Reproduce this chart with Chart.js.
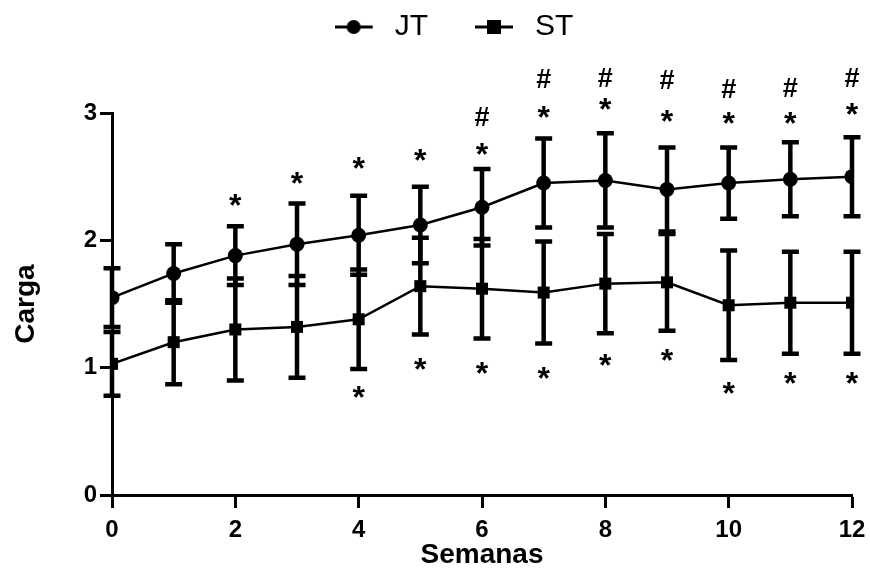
<!DOCTYPE html>
<html>
<head>
  <title>Carga por semana</title>
  <style>
    html, body { margin: 0; padding: 0; background: #fff; }
    #wrap { width: 870px; height: 572px; }
  </style>
</head>
<body>
  <div id="wrap"><canvas id="canvas" width="870" height="572"></canvas></div>
  <script src="https://cdn.jsdelivr.net/npm/chart.js"></script>
  <script>
    // data
    const weeks = [0, 1, 2, 3, 4, 5, 6, 7, 8, 9, 10, 11, 12];
    const jtMean = [1.55, 1.74, 1.88, 1.97, 2.04, 2.12, 2.26, 2.45, 2.47, 2.40, 2.45, 2.48, 2.50];
    const jtSd   = [0.23, 0.23, 0.23, 0.32, 0.31, 0.30, 0.30, 0.35, 0.37, 0.33, 0.28, 0.29, 0.31];
    const stMean = [1.03, 1.20, 1.30, 1.32, 1.38, 1.64, 1.62, 1.59, 1.66, 1.67, 1.49, 1.51, 1.51];
    const stSd   = [0.25, 0.33, 0.40, 0.40, 0.39, 0.38, 0.39, 0.40, 0.39, 0.38, 0.43, 0.40, 0.40];

    // significance marks (week, height in Carga units)
    const jtStarWeeks = [2, 3, 4, 5, 6, 7, 8, 9, 10, 11, 12];
    const jtStarY     = [2.32, 2.49, 2.61, 2.67, 2.72, 3.01, 3.07, 2.98, 2.96, 2.96, 3.03];
    const jtHashWeeks = [6, 7, 8, 9, 10, 11, 12];
    const jtHashY     = [2.97, 3.27, 3.28, 3.26, 3.19, 3.20, 3.28];
    const stStarWeeks = [4, 5, 6, 7, 8, 9, 10, 11, 12];
    const stStarY     = [0.81, 1.03, 1.00, 0.96, 1.06, 1.10, 0.84, 0.92, 0.92];

    const xTicks = [0, 2, 4, 6, 8, 10, 12];

    const FONT = "'Liberation Sans', Arial, sans-serif";

    // legend icon: line with marker, plus a little blank space on the right
    function legendIcon(shape) {
      const c = document.createElement('canvas');
      c.width = 45; c.height = 18;
      const g = c.getContext('2d');
      g.strokeStyle = '#000'; g.fillStyle = '#000'; g.lineWidth = 3;
      g.beginPath(); g.moveTo(0, 9); g.lineTo(38, 9); g.stroke();
      if (shape === 'circle') {
        g.beginPath(); g.arc(19, 9, 7, 0, Math.PI * 2); g.fill();
      } else {
        g.fillRect(12, 2, 14, 14);
      }
      return c;
    }
    const icons = { JT: legendIcon('circle'), ST: legendIcon('rect') };

    const errorBars = {
      id: 'errorBars',
      beforeDatasetsDraw(chart) {
        const { ctx, scales: { x, y } } = chart;
        ctx.save();
        ctx.strokeStyle = '#000';
        ctx.lineWidth = 4.5;
        ctx.lineCap = 'butt';
        [[jtMean, jtSd], [stMean, stSd]].forEach(([m, s]) => {
          weeks.forEach((w, i) => {
            const px = x.getPixelForValue(w);
            const top = y.getPixelForValue(m[i] + s[i]);
            const bot = y.getPixelForValue(m[i] - s[i]);
            ctx.beginPath();
            ctx.moveTo(px, top); ctx.lineTo(px, bot);
            ctx.moveTo(px - 8.5, top); ctx.lineTo(px + 8.5, top);
            ctx.moveTo(px - 8.5, bot); ctx.lineTo(px + 8.5, bot);
            ctx.stroke();
          });
        });
        ctx.restore();
      }
    };

    function drawMark(ctx, txt, px, py) {
      const m = ctx.measureText(txt);
      const base = py + (m.actualBoundingBoxAscent - m.actualBoundingBoxDescent) / 2;
      ctx.fillText(txt, px, base);
    }

    const sigMarks = {
      id: 'sigMarks',
      afterDatasetsDraw(chart) {
        const { ctx, scales: { x, y } } = chart;
        ctx.save();
        ctx.fillStyle = '#000';
        ctx.textAlign = 'center';
        ctx.textBaseline = 'alphabetic';
        ctx.font = 'bold 32px ' + FONT;
        jtStarWeeks.forEach((w, i) => drawMark(ctx, '*', x.getPixelForValue(w), y.getPixelForValue(jtStarY[i])));
        stStarWeeks.forEach((w, i) => drawMark(ctx, '*', x.getPixelForValue(w), y.getPixelForValue(stStarY[i])));
        ctx.font = 'bold 27px ' + FONT;
        jtHashWeeks.forEach((w, i) => drawMark(ctx, '#', x.getPixelForValue(w), y.getPixelForValue(jtHashY[i])));
        ctx.restore();
      }
    };

    // legend sits higher and the plot starts lower; nudge legend right
    const legendSpace = {
      id: 'legendSpace',
      beforeInit(chart) {
        const fit = chart.legend.fit;
        chart.legend.fit = function () {
          fit.bind(chart.legend)();
          this.height = 148;
          if (this.lineWidths && this.lineWidths.length) this.lineWidths[0] -= 56;
        };
      }
    };

    const ctx = document.getElementById('canvas').getContext('2d');
    new Chart(ctx, {
      type: 'line',
      data: {
        datasets: [
          {
            label: 'JT',
            data: weeks.map((w, i) => ({ x: w, y: jtMean[i] })),
            borderColor: '#000',
            backgroundColor: '#000',
            borderWidth: 2.5,
            pointStyle: 'circle',
            pointRadius: 7.5,
            pointBorderWidth: 0,
            tension: 0
          },
          {
            label: 'ST',
            data: weeks.map((w, i) => ({ x: w, y: stMean[i] })),
            borderColor: '#000',
            backgroundColor: '#000',
            borderWidth: 2.5,
            pointStyle: 'rect',
            pointRadius: 8.5,
            pointBorderWidth: 0,
            tension: 0
          }
        ]
      },
      options: {
        responsive: false,
        animation: false,
        events: [],
        layout: { padding: { left: 0, right: 18, top: -35, bottom: 0 } },
        plugins: {
          tooltip: { enabled: false },
          legend: {
            position: 'top',
            align: 'center',
            labels: {
              color: '#000',
              font: { family: FONT, size: 30 },
              usePointStyle: true,
              pointStyleWidth: 45,
              padding: 47,
              generateLabels(chart) {
                return chart.data.datasets.map((d, i) => ({
                  text: d.label,
                  datasetIndex: i,
                  pointStyle: icons[d.label],
                  fillStyle: '#000',
                  strokeStyle: '#000',
                  fontColor: '#000',
                  lineWidth: 0,
                  hidden: false
                }));
              }
            }
          }
        },
        scales: {
          x: {
            type: 'linear',
            min: 0,
            max: 12,
            afterBuildTicks(scale) { scale.ticks = xTicks.map(v => ({ value: v })); },
            afterFit(scale) {
              scale.height = 77;
              scale.paddingLeft = 0;
              scale.paddingRight = 0;
            },
            ticks: { color: '#000', font: { family: FONT, size: 24, weight: 'bold' }, padding: 8 },
            grid: { display: true, drawOnChartArea: false, drawTicks: true, tickLength: 13, tickWidth: 3, tickColor: '#000' },
            border: { display: true, color: '#000', width: 3 },
            title: { display: true, text: 'Semanas', color: '#000', font: { family: FONT, size: 28, weight: 'bold' }, padding: { top: 0, bottom: 0 } }
          },
          y: {
            min: 0,
            max: 3,
            ticks: { stepSize: 1, color: '#000', font: { family: FONT, size: 24, weight: 'bold' }, padding: 3 },
            afterFit(scale) { scale.width = 112; },
            grid: { display: true, drawOnChartArea: false, drawTicks: true, tickLength: 12, tickWidth: 3, tickColor: '#000' },
            border: { display: true, color: '#000', width: 3 },
            title: { display: true, text: 'Carga', color: '#000', font: { family: FONT, size: 28, weight: 'bold' }, padding: { top: 9, bottom: 0 } }
          }
        }
      },
      plugins: [errorBars, sigMarks, legendSpace]
    });
  </script>
</body>
</html>
